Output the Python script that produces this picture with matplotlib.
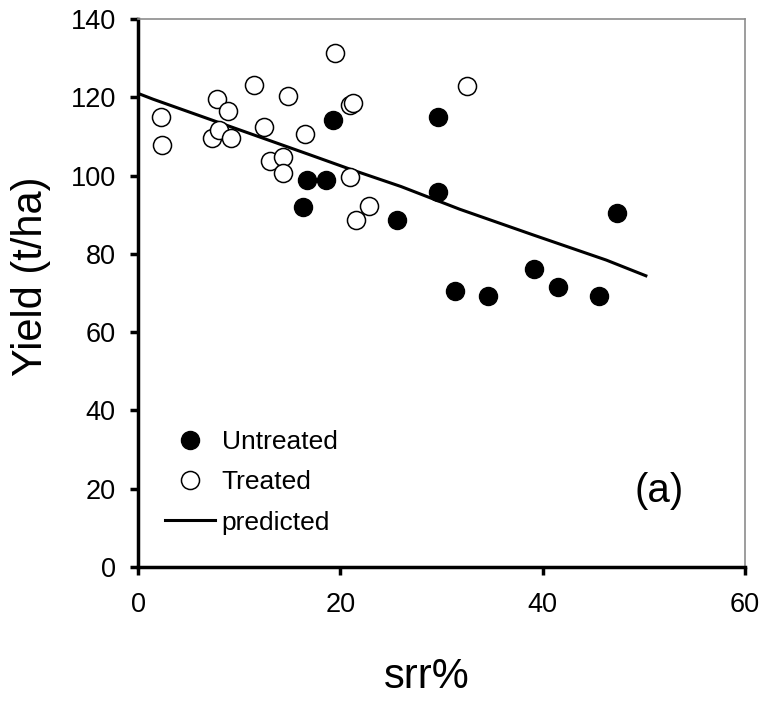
import matplotlib
matplotlib.use("Agg")
import matplotlib.pyplot as plt
from matplotlib.lines import Line2D

plt.rcParams['font.family'] = ['Liberation Sans', 'DejaVu Sans']

# Data
untreated_x = [16.3, 16.7, 18.6, 19.3, 25.6, 29.7, 29.7, 31.3, 34.6, 39.1, 41.5, 45.6, 47.3]
untreated_y = [91.9, 98.9, 98.9, 114.2, 88.7, 115.0, 95.9, 70.6, 69.2, 76.1, 71.6, 69.2, 90.4]

treated_x = [2.3, 2.4, 7.3, 7.8, 8.0, 8.9, 9.2, 11.5, 12.5, 13.0, 14.3, 14.3,
             14.8, 16.5, 19.5, 21.0, 21.3, 21.0, 21.5, 22.8, 32.5]
treated_y = [115.0, 107.8, 109.7, 119.5, 111.6, 116.5, 109.7, 123.1, 112.3, 103.8,
             104.8, 100.6, 120.4, 110.5, 131.2, 118.0, 118.5, 99.7, 88.7, 92.1, 122.9]

pred_x = [0, 1.5, 17, 21, 26, 31.8, 39.1, 46.3, 50.2]
pred_y = [121, 119.5, 105.3, 101.6, 97.2, 91.4, 84.8, 78.4, 74.4]

x_ticks = [0, 20, 40, 60]
y_ticks = [0, 20, 40, 60, 80, 100, 120, 140]

fig = plt.figure(figsize=(7.63, 7.04), dpi=100)
ax = fig.add_axes([138 / 763, 137 / 704, 607 / 763, 548 / 704])

ax.plot(pred_x, pred_y, color='black', linewidth=2.2, zorder=2)
ax.plot(treated_x, treated_y, 'o', markersize=13, markerfacecolor='white',
        markeredgecolor='black', markeredgewidth=1.1, zorder=3)
ax.plot(untreated_x, untreated_y, 'o', markersize=13, color='black', zorder=4)

ax.set_xlim(0, 60)
ax.set_ylim(0, 140)
ax.set_xticks(x_ticks)
ax.set_yticks(y_ticks)

for side in ['left', 'bottom']:
    ax.spines[side].set_linewidth(2.5)
    ax.spines[side].set_color('black')
for side in ['top', 'right']:
    ax.spines[side].set_linewidth(1.2)
    ax.spines[side].set_color('#8c8c8c')

ax.tick_params(axis='both', direction='out', length=6, width=2.5, labelsize=19.5)
ax.tick_params(axis='x', pad=12)
ax.tick_params(axis='y', pad=10)

ax.set_xlabel('srr%', fontsize=30)
ax.set_ylabel('Yield (t/ha)', fontsize=30)
ax.xaxis.set_label_coords(0.476, -0.165)
ax.yaxis.set_label_coords(-0.143, 0.531)

ax.text(0.858, 0.139, '(a)', transform=ax.transAxes, fontsize=29,
        ha='center', va='center')

handles = [
    Line2D([], [], marker='o', linestyle='none', markersize=13, color='black'),
    Line2D([], [], marker='o', linestyle='none', markersize=13,
           markerfacecolor='white', markeredgecolor='black', markeredgewidth=1.1),
    Line2D([], [], color='black', linewidth=2.2),
]
ax.legend(handles, ['Untreated', 'Treated', 'predicted'], loc='upper left',
          bbox_to_anchor=((165 - 138) / 607, (567 - 430) / 548),
          frameon=False, fontsize=19, handlelength=1.9, handletextpad=0.25,
          labelspacing=0.62, borderpad=0, borderaxespad=0)

fig.savefig('out.png', dpi=100)
